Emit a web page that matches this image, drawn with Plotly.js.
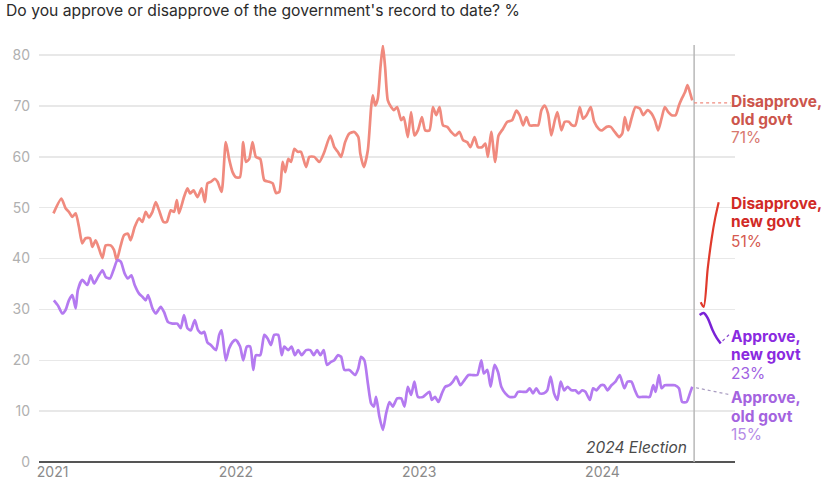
<!DOCTYPE html>
<html>
<head>
<meta charset="utf-8">
<script src="https://cdn.plot.ly/plotly-3.0.1.min.js"></script>
<style>
  html, body { margin: 0; padding: 0; background: #fff; }
  #chart { width: 837px; height: 492px; }
</style>
</head>
<body>
<div id="chart"></div>
<script>
// ---- Data (time as decimal years) ----
const disOldT = [2021.005,2021.048,2021.071,2021.089,2021.108,2021.126,2021.144,2021.162,2021.180,2021.204,
2021.217,2021.235,2021.253,2021.272,2021.290,2021.317,2021.335,2021.350,2021.372,2021.390,
2021.411,2021.426,2021.448,2021.472,2021.490,2021.508,2021.526,2021.545,2021.563,2021.581,
2021.605,2021.623,2021.645,2021.663,2021.678,2021.690,2021.717,2021.736,2021.750,2021.769,
2021.791,2021.813,2021.831,2021.845,2021.863,2021.885,2021.900,2021.922,2021.945,2021.963,
2021.982,2022.000,2022.022,2022.040,2022.055,2022.073,2022.091,2022.109,2022.133,2022.155,
2022.182,2022.201,2022.219,2022.237,2022.255,2022.269,2022.286,2022.301,2022.319,2022.337,
2022.355,2022.383,2022.401,2022.428,2022.455,2022.483,2022.515,2022.537,2022.556,2022.574,
2022.596,2022.619,2022.646,2022.668,2022.679,2022.698,2022.720,2022.738,2022.747,2022.760,
2022.774,2022.789,2022.802,2022.814,2022.829,2022.847,2022.862,2022.880,2022.902,2022.916,
2022.938,2022.956,2022.974,2022.993,2023.015,2023.033,2023.056,2023.075,2023.093,2023.111,
2023.130,2023.153,2023.175,2023.197,2023.220,2023.239,2023.262,2023.280,2023.302,2023.321,
2023.343,2023.361,2023.375,2023.393,2023.415,2023.433,2023.457,2023.481,2023.507,2023.530,
2023.548,2023.567,2023.585,2023.603,2023.630,2023.649,2023.667,2023.685,2023.703,2023.721,
2023.740,2023.754,2023.776,2023.794,2023.816,2023.834,2023.852,2023.876,2023.894,2023.913,
2023.936,2023.955,2023.980,2023.998,2024.022,2024.045,2024.067,2024.091,2024.108,2024.122,
2024.140,2024.158,2024.180,2024.204,2024.222,2024.246,2024.268,2024.286,2024.304,2024.322,
2024.340,2024.359,2024.377,2024.399,2024.417,2024.432,2024.450,2024.464,2024.477,2024.490];
const disOldV = [48.9,51.8,49.9,49.2,48.2,48.9,46.2,43.0,44.0,44.0,
42.3,43.6,42.0,40.1,42.6,42.6,41.7,39.7,42.6,44.6,
44.9,43.6,46.2,47.9,47.2,49.2,48.1,49.2,51.1,49.5,
47.2,47.2,49.5,49.2,51.5,48.9,52.1,53.8,52.8,53.4,
52.1,53.8,51.1,54.8,55.1,55.7,55.1,53.1,62.9,59.6,
57.0,56.0,56.0,62.9,59.0,59.6,62.9,60.0,59.6,55.4,
55.1,54.8,52.9,53.1,59.0,57.0,59.6,59.0,61.6,61.0,
61.0,58.0,60.0,60.0,59.0,61.0,64.2,61.9,61.0,60.0,
62.9,64.6,64.9,63.9,60.6,58.0,61.3,69.8,72.1,70.1,
71.4,77.7,81.9,77.7,71.1,69.8,69.2,69.8,67.2,67.8,
63.9,68.8,64.2,65.2,67.8,65.2,65.2,69.8,68.2,69.8,
66.2,65.9,64.9,64.2,64.9,63.3,62.9,61.9,63.9,61.9,
61.9,62.6,60.0,64.9,59.0,64.2,65.5,66.9,67.2,69.1,
68.2,66.2,67.8,66.2,66.2,66.2,69.2,70.1,68.5,64.2,
67.2,68.8,65.2,66.9,66.9,66.2,66.2,69.8,67.5,68.2,
69.8,66.9,65.5,65.2,65.9,65.9,64.9,63.9,64.6,67.8,
65.2,67.5,69.8,69.5,68.2,69.2,68.5,67.2,65.2,67.5,
69.8,68.8,68.2,68.2,70.1,71.4,72.7,74.1,72.7,71.1];

const appOldT = [2021.007,2021.029,2021.053,2021.071,2021.089,2021.108,2021.126,2021.138,2021.162,2021.190,
2021.208,2021.226,2021.248,2021.272,2021.290,2021.313,2021.332,2021.354,2021.372,2021.393,
2021.411,2021.430,2021.448,2021.472,2021.490,2021.508,2021.521,2021.545,2021.563,2021.590,
2021.608,2021.630,2021.654,2021.681,2021.699,2021.717,2021.736,2021.754,2021.776,2021.794,
2021.813,2021.827,2021.845,2021.863,2021.891,2021.909,2021.922,2021.945,2021.963,2021.982,
2022.000,2022.023,2022.040,2022.060,2022.078,2022.095,2022.109,2022.133,2022.155,2022.173,
2022.191,2022.209,2022.231,2022.250,2022.264,2022.286,2022.304,2022.322,2022.340,2022.359,
2022.383,2022.406,2022.425,2022.443,2022.461,2022.479,2022.497,2022.519,2022.537,2022.556,
2022.574,2022.592,2022.619,2022.650,2022.668,2022.683,2022.701,2022.720,2022.738,2022.753,
2022.765,2022.783,2022.802,2022.820,2022.838,2022.856,2022.880,2022.902,2022.920,2022.938,
2022.956,2022.974,2022.993,2023.020,2023.056,2023.069,2023.087,2023.105,2023.124,2023.142,
2023.165,2023.184,2023.202,2023.225,2023.247,2023.269,2023.293,2023.317,2023.339,2023.353,
2023.372,2023.390,2023.411,2023.430,2023.448,2023.470,2023.493,2023.521,2023.539,2023.567,
2023.585,2023.603,2023.621,2023.639,2023.657,2023.681,2023.699,2023.717,2023.736,2023.754,
2023.772,2023.791,2023.809,2023.831,2023.852,2023.870,2023.889,2023.907,2023.931,2023.949,
2023.967,2023.991,2024.009,2024.027,2024.049,2024.071,2024.094,2024.119,2024.137,2024.158,
2024.177,2024.195,2024.217,2024.240,2024.258,2024.277,2024.290,2024.308,2024.322,2024.340,
2024.368,2024.395,2024.417,2024.435,2024.459,2024.477,2024.490];
const appOldV = [31.8,30.8,29.2,29.9,31.8,32.8,30.2,33.8,35.8,34.8,
36.7,35.1,36.4,37.7,36.4,36.1,37.7,39.7,39.4,37.1,
36.1,36.7,34.8,33.1,32.5,31.8,32.8,30.2,29.2,30.5,
29.5,27.5,27.2,27.2,26.3,28.9,26.3,25.9,27.9,25.9,
25.3,25.6,23.5,23.0,22.0,25.0,25.9,20.0,22.3,23.6,
24.0,22.7,20.0,22.7,22.7,18.1,21.0,21.0,25.0,24.3,
23.0,25.0,25.0,21.0,22.7,22.0,22.7,21.0,22.0,21.0,
22.0,22.0,21.0,22.0,21.0,22.0,19.1,19.7,20.0,21.0,
20.7,18.1,18.1,17.1,18.4,20.7,20.0,15.5,11.5,10.9,
12.8,8.9,6.3,9.6,11.8,10.9,12.5,12.5,10.9,14.8,
13.2,15.8,12.8,12.8,13.8,12.2,12.8,11.8,13.5,14.8,
15.1,15.8,16.8,15.1,16.1,17.1,17.1,17.1,20.0,17.4,
18.1,14.8,19.1,17.7,14.8,13.5,12.8,12.8,13.8,13.8,
13.8,14.5,13.5,14.5,13.5,13.5,14.1,16.8,13.5,12.2,
15.8,14.1,14.8,14.1,14.1,13.5,14.1,13.8,12.2,14.5,
14.1,15.1,15.1,14.1,15.1,15.8,17.1,14.5,15.8,15.8,
14.1,12.8,12.8,12.8,12.8,15.1,13.8,17.1,14.5,15.1,
15.1,15.1,14.5,11.8,11.8,13.5,14.8];

const disNewT = [2024.536,2024.552,2024.574,2024.596,2024.615,2024.634];
const disNewV = [31.4,30.5,38.0,44.0,48.0,51.1];
const appNewT = [2024.530,2024.552,2024.574,2024.601,2024.623,2024.645];
const appNewV = [28.9,29.3,28.3,25.9,24.4,23.3];

const yearTicks = [2021,2022,2023,2024];
const yearLabels = ["2021","2022","2023","2024"];
const electionT = 2024.50;

const FONT = "Inter, 'Noto Sans', Arial, sans-serif";

const traces = [
  {x: disOldT, y: disOldV, mode: "lines", line: {color: "#f08a7e", width: 2.7, shape: "spline", smoothing: 0.6}, hoverinfo: "skip"},
  {x: appOldT, y: appOldV, mode: "lines", line: {color: "#b47af0", width: 2.7, shape: "spline", smoothing: 0.6}, hoverinfo: "skip"},
  {x: disNewT, y: disNewV, mode: "lines", line: {color: "#e03a2c", width: 2.2, shape: "spline", smoothing: 0.8}, hoverinfo: "skip"},
  {x: appNewT, y: appNewV, mode: "lines", line: {color: "#7a22d6", width: 2.5, shape: "spline", smoothing: 0.8}, hoverinfo: "skip"}
];

function lab(y, text, color, bold) {
  return {xref: "paper", yref: "y", x: 0.992, y: y, xanchor: "left", yanchor: "middle",
    text: bold ? "<b>" + text + "</b>" : text, showarrow: false,
    font: {family: FONT, size: 15.5, color: color}};
}

const annotations = [
  lab(70.8, "Disapprove,", "#cc554c", true),
  lab(67.3, "old govt", "#cc554c", true),
  lab(63.9, "71%", "#d8786f", false),
  lab(50.9, "Disapprove,", "#d12a26", true),
  lab(47.2, "new govt", "#d12a26", true),
  lab(43.3, "51%", "#d55a50", false),
  lab(24.6, "Approve,", "#8a2ae0", true),
  lab(21.2, "new govt", "#8a2ae0", true),
  lab(17.5, "23%", "#9f62e2", false),
  lab(12.6, "Approve,", "#a463df", true),
  lab(9.0, "old govt", "#a463df", true),
  lab(5.5, "15%", "#b48be6", false),
  {xref: "x", yref: "y", x: electionT, y: 2.9, xanchor: "right", yanchor: "middle", xshift: -5,
   text: "<i>2024 Election</i>", showarrow: false, font: {family: FONT, size: 15.5, color: "#4a4a4a"}},
  {xref: "paper", yref: "paper", x: -0.05, y: 1.082, xanchor: "left", yanchor: "middle",
   text: "Do you approve or disapprove of the government's record to date? %", showarrow: false,
   font: {family: FONT, size: 15.7, color: "#2b2b2b"}}
];

const shapes = [
  {type: "line", xref: "x", yref: "paper", x0: electionT, x1: electionT, y0: 0, y1: 1,
   line: {color: "#b8b8b8", width: 1.5}},
  {type: "line", xref: "x", yref: "y", x0: 2024.50, x1: 2024.70, y0: 70.6, y1: 70.6,
   line: {color: "#f08a7e", width: 1.3, dash: "dot"}},
  {type: "line", xref: "x", yref: "y", x0: 2024.655, x1: 2024.695, y0: 23.8, y1: 25.2,
   line: {color: "#8a4ad0", width: 1.2, dash: "dot"}},
  {type: "line", xref: "x", yref: "y", x0: 2024.51, x1: 2024.70, y0: 14.6, y1: 13.2,
   line: {color: "#a89cc0", width: 1.2, dash: "dot"}}
];

const layout = {
  width: 837, height: 492,
  margin: {l: 39, r: 102, t: 45, b: 30, pad: 0},
  paper_bgcolor: "#ffffff", plot_bgcolor: "#ffffff",
  showlegend: false,
  font: {family: FONT},
  xaxis: {
    range: [2020.926, 2024.723], tickmode: "array", tickvals: yearTicks, ticktext: yearLabels,
    showgrid: false, zeroline: false, showline: false, ticks: "",
    tickfont: {family: FONT, size: 14, color: "#8a8a8a"}, fixedrange: true
  },
  yaxis: {
    range: [0, 82], tickmode: "array", tickvals: [0,10,20,30,40,50,60,70,80],
    showgrid: true, gridcolor: "#e8e8e8", gridwidth: 1.5,
    zeroline: true, zerolinecolor: "#555555", zerolinewidth: 2,
    showline: false, ticks: "", ticklabelstandoff: 8,
    tickfont: {family: FONT, size: 14, color: "#b0b0b0"}, fixedrange: true
  },
  annotations: annotations,
  shapes: shapes
};

Plotly.newPlot("chart", traces, layout, {displayModeBar: false, staticPlot: true});
</script>
</body>
</html>
